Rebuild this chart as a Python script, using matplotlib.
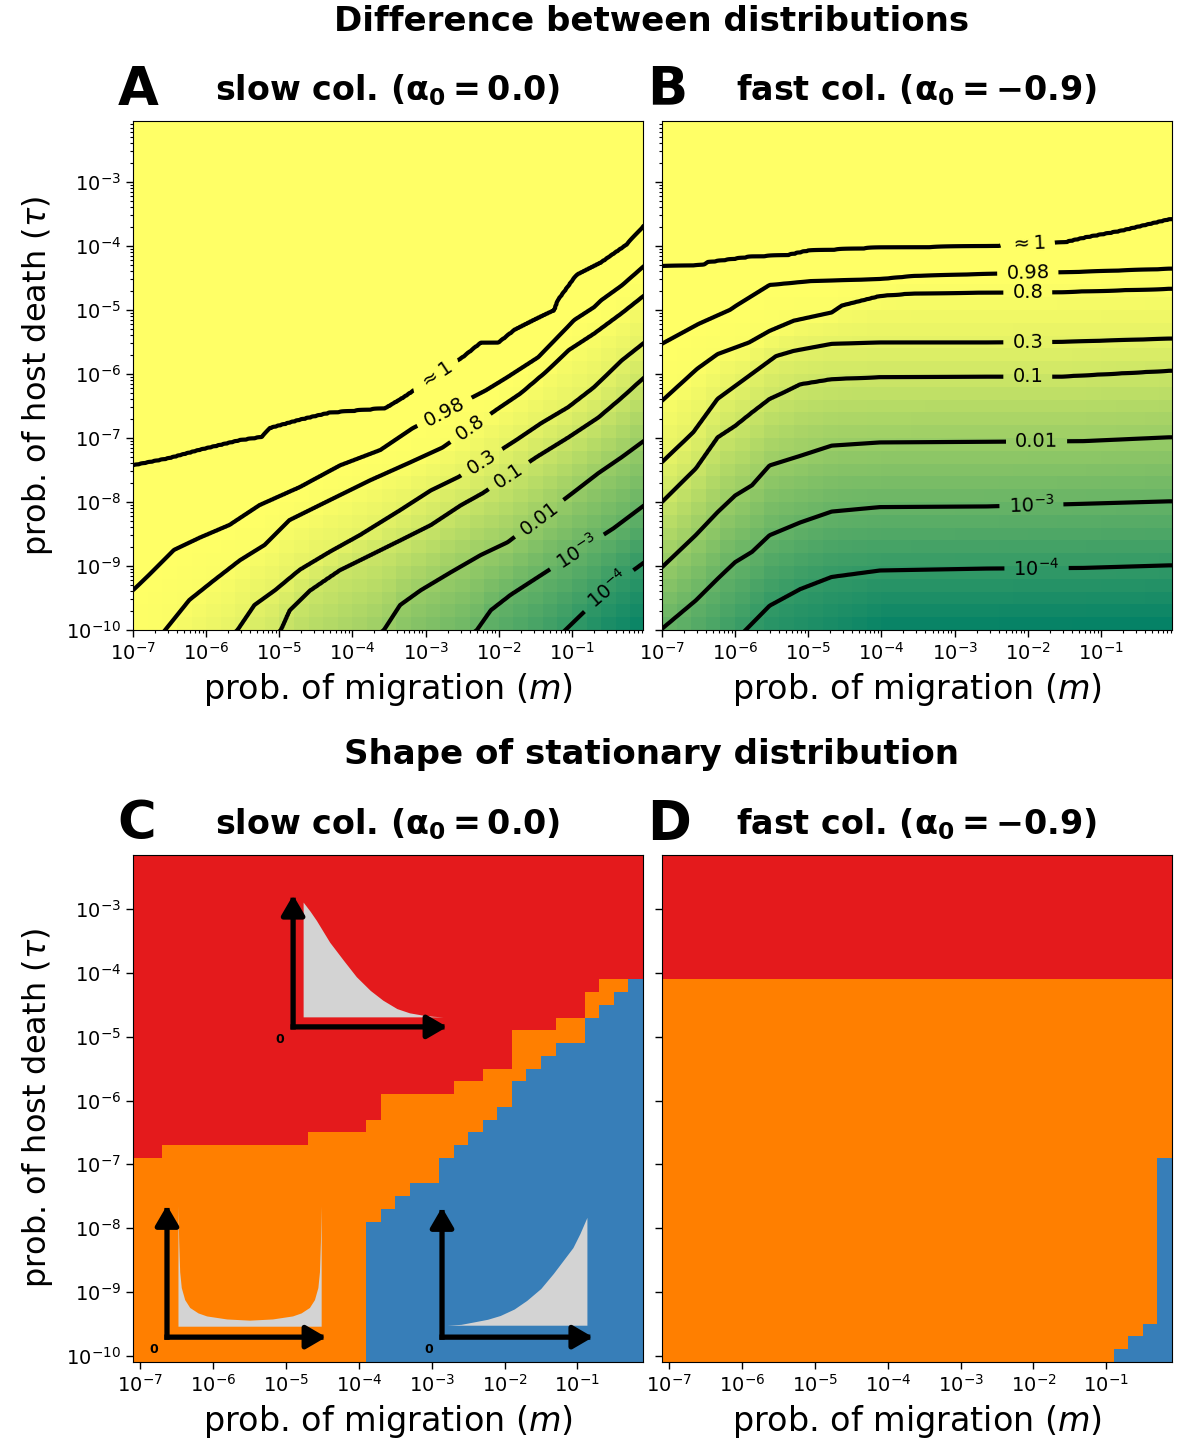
import numpy as np
import matplotlib
matplotlib.use("Agg")
import matplotlib.pyplot as plt
from matplotlib.colors import LogNorm, ListedColormap
from matplotlib.patches import FancyArrowPatch
from matplotlib.ticker import FixedLocator, NullLocator, NullFormatter

# ---- values ----------------------------------------------------------------
# difference levels (hidden floor 1e-5, drawn 1e-4 ... ~1, ceiling 1)
LEVEL_VALUES = [1e-5, 1e-4, 1e-3, 1e-2, 0.1, 0.3, 0.8, 0.98, 0.999, 1.0]
LEVEL_LABELS = {1: r"$10^{-4}$", 2: r"$10^{-3}$", 3: "0.01", 4: "0.1",
                5: "0.3", 6: "0.8", 7: "0.98", 8: r"$\approx 1$"}

# contour lines, (log10 m, log10 tau) pairs -- panel A (slow col.)
A_FLOOR = [(-7.0, -17.0), (-1.0, -11.0), (0.1, -10.0)]
A_1E4 = [(-7.0, -15.5), (-2.0, -11.0), (-1.09, -10.0), (-0.91, -9.80), (-0.5, -9.35), (-0.01, -8.94)]
A_1E3 = [(-7.0, -14.0), (-2.30, -10.0), (-2.11, -9.69), (-1.84, -9.45), (-1.38, -9.11),
         (-0.43, -8.41), (-0.01, -8.05)]
A_001 = [(-7.0, -13.0), (-3.57, -10.0), (-3.35, -9.61), (-3.07, -9.38), (-2.66, -9.10),
         (-2.25, -8.83), (-1.88, -8.63), (-0.98, -7.85), (-0.64, -7.55), (-0.32, -7.30), (-0.01, -7.04)]
A_01 = [(-7.0, -12.0), (-4.98, -10.0), (-4.86, -9.69), (-4.58, -9.38), (-4.17, -9.06), (-3.76, -8.83),
        (-3.35, -8.60), (-2.93, -8.36), (-2.52, -8.05), (-2.22, -7.86), (-1.49, -7.30), (-1.05, -6.99),
        (-0.64, -6.68), (-0.32, -6.37), (-0.01, -6.05)]
A_03 = [(-7.0, -11.5), (-5.57, -10.0), (-5.34, -9.61), (-5.06, -9.38), (-4.72, -9.06), (-4.31, -8.78),
        (-3.90, -8.52), (-3.35, -8.13), (-2.93, -7.82), (-2.55, -7.61), (-1.77, -7.04), (-1.42, -6.77),
        (-1.05, -6.52), (-0.70, -6.21), (-0.32, -5.79), (-0.01, -5.51)]
A_08 = [(-7.0, -10.6), (-6.56, -10.0), (-6.23, -9.53), (-5.89, -9.22), (-5.54, -8.91), (-5.20, -8.67),
        (-4.86, -8.28), (-4.31, -7.97), (-3.76, -7.66), (-3.21, -7.38), (-2.77, -7.15), (-2.01, -6.54),
        (-1.70, -6.30), (-1.33, -5.94), (-1.05, -5.63), (-0.70, -5.37), (-0.32, -5.05), (-0.01, -4.77)]
A_098 = [(-7.0, -9.38), (-6.78, -9.14), (-6.44, -8.75), (-6.09, -8.56), (-5.68, -8.36), (-5.27, -8.05),
         (-4.72, -7.77), (-4.17, -7.43), (-3.62, -7.19), (-3.18, -6.85), (-2.18, -6.26), (-1.88, -6.05),
         (-1.46, -5.74), (-1.24, -5.48), (-0.97, -5.16), (-0.70, -4.96), (-0.60, -4.85), (-0.32, -4.62),
         (-0.01, -4.31)]
A_APPROX1 = [(-7.0, -7.43), (-6.51, -7.32), (-6.09, -7.19), (-5.54, -7.04), (-5.24, -6.99), (-5.13, -6.85),
             (-4.72, -6.72), (-4.31, -6.61), (-3.55, -6.54), (-3.30, -6.37), (-2.49, -5.74), (-2.25, -5.52),
             (-2.01, -5.52), (-1.79, -5.32), (-1.52, -5.16), (-1.24, -5.01), (-1.19, -4.85), (-0.94, -4.46),
             (-0.60, -4.26), (-0.26, -3.99), (-0.01, -3.68)]

# panel B (fast col.)
B_FLOOR = [(-7.0, -12.3), (-4.0, -10.1), (0.1, -10.0)]
B_1E4 = [(-7.0, -11.3), (-5.84, -9.98), (-5.53, -9.62), (-5.11, -9.36), (-4.68, -9.17), (-4.02, -9.07),
         (-2.56, -9.04), (-1.24, -9.03), (-0.07, -8.99)]
B_1E3 = [(-7.0, -9.98), (-6.54, -9.54), (-6.24, -9.20), (-6.00, -8.94), (-5.77, -8.78), (-5.53, -8.52),
         (-5.11, -8.32), (-4.68, -8.15), (-4.02, -8.08), (-2.56, -8.07), (-1.29, -8.03), (-0.07, -7.99)]
B_001 = [(-7.0, -9.02), (-6.54, -8.52), (-6.24, -8.16), (-6.00, -7.90), (-5.77, -7.74), (-5.53, -7.43),
         (-5.11, -7.28), (-4.68, -7.12), (-4.02, -7.07), (-2.56, -7.06), (-1.24, -7.05), (-0.07, -6.99)]
B_01 = [(-7.0, -8.00), (-6.54, -7.48), (-6.24, -6.99), (-6.00, -6.81), (-5.77, -6.60), (-5.53, -6.39),
        (-5.34, -6.29), (-5.11, -6.16), (-4.68, -6.08), (-4.02, -6.05), (-2.56, -6.04), (-1.53, -6.04),
        (-0.07, -5.95)]
B_03 = [(-7.0, -7.38), (-6.57, -6.91), (-6.24, -6.39), (-5.81, -6.03), (-5.44, -5.72), (-5.20, -5.64),
        (-4.68, -5.53), (-4.02, -5.51), (-2.56, -5.51), (-1.53, -5.50), (-0.07, -5.45)]
B_08 = [(-7.0, -6.42), (-6.52, -5.92), (-6.24, -5.69), (-5.81, -5.51), (-5.53, -5.33), (-5.20, -5.17),
        (-4.68, -5.04), (-4.54, -4.93), (-4.02, -4.78), (-3.55, -4.74), (-2.56, -4.73), (-1.53, -4.72),
        (-0.07, -4.67)]
B_098 = [(-7.0, -5.53), (-6.50, -5.22), (-6.07, -5.00), (-5.98, -4.93), (-5.53, -4.61), (-4.97, -4.55),
         (-4.02, -4.52), (-3.55, -4.47), (-2.61, -4.44), (-1.39, -4.41), (-0.07, -4.36)]
B_APPROX1 = [(-7.0, -4.32), (-6.43, -4.30), (-6.38, -4.26), (-5.77, -4.17), (-5.29, -4.15), (-5.01, -4.08),
             (-4.02, -4.03), (-2.56, -4.01), (-1.50, -3.95), (-1.20, -3.87), (-0.73, -3.77), (-0.07, -3.59)]

# where the contour labels sit (log10 m, log10 tau), by level index
A_LABEL_AT = {8: (-2.84, -6.05), 7: (-2.76, -6.55), 6: (-2.45, -6.75), 5: (-2.25, -7.35),
              4: (-1.88, -7.55), 3: (-1.46, -8.24), 2: (-1.01, -8.64), 1: (-0.50, -9.38)}
B_LABEL_AT = {8: (-2.0, -3.98), 7: (-2.0, -4.42), 6: (-2.0, -4.73), 5: (-2.0, -5.51),
              4: (-2.0, -6.04), 3: (-1.88, -7.06), 2: (-1.95, -8.06), 1: (-1.88, -9.04)}

# shape of stationary distribution, one value per m column (log10 m = -7.0 ... -0.2)
M_COLUMNS = [-7.0, -6.8, -6.6, -6.4, -6.2, -6.0, -5.8, -5.6, -5.4, -5.2, -5.0, -4.8, -4.6, -4.4, -4.2,
             -4.0, -3.8, -3.6, -3.4, -3.2, -3.0, -2.8, -2.6, -2.4, -2.2, -2.0, -1.8, -1.6, -1.4, -1.2,
             -1.0, -0.8, -0.6, -0.4, -0.2]
nan = np.nan
# lowest log10 tau that is still "decreasing" (red)
C_RED_FROM = [-6.8, -6.8, -6.6, -6.6, -6.6, -6.6, -6.6, -6.6, -6.6, -6.6, -6.6, -6.6, -6.4, -6.4, -6.4,
              -6.4, -6.2, -5.8, -5.8, -5.8, -5.8, -5.8, -5.6, -5.6, -5.4, -5.4, -4.8, -4.8, -4.8, -4.6,
              -4.6, -4.2, -4.0, -4.0, -4.0]
# highest log10 tau that is still "increasing" (blue)
C_BLUE_TO = [nan, nan, nan, nan, nan, nan, nan, nan, nan, nan, nan, nan, nan, nan, nan,
             nan, -8.0, -7.8, -7.6, -7.4, -7.4, -7.0, -6.8, -6.6, -6.4, -6.2, -5.8, -5.6, -5.4, -5.2,
             -5.2, -4.8, -4.6, -4.4, -4.2]
D_RED_FROM = [-4.0, -4.0, -4.0, -4.0, -4.0, -4.0, -4.0, -4.0, -4.0, -4.0, -4.0, -4.0, -4.0, -4.0, -4.0,
              -4.0, -4.0, -4.0, -4.0, -4.0, -4.0, -4.0, -4.0, -4.0, -4.0, -4.0, -4.0, -4.0, -4.0, -4.0,
              -4.0, -4.0, -4.0, -4.0, -4.0]
D_BLUE_TO = [nan, nan, nan, nan, nan, nan, nan, nan, nan, nan, nan, nan, nan, nan, nan,
             nan, nan, nan, nan, nan, nan, nan, nan, nan, nan, nan, nan, nan, nan, nan,
             nan, -10.0, -9.8, -9.6, -7.0]

# sketch curves (fractions of the grey box)
DECAY_U = [0.0, 0.05, 0.095, 0.14, 0.19, 0.24, 0.29, 0.38, 0.48, 0.57, 0.67, 0.76, 0.86, 0.93, 1.0]
DECAY_V = [1.0, 0.92, 0.84, 0.75, 0.65, 0.57, 0.49, 0.35, 0.23, 0.145, 0.072, 0.035, 0.014, 0.005, 0.0]
U_SHAPE_U = [0.0, 0.005, 0.012, 0.023, 0.047, 0.082, 0.14, 0.2, 0.34, 0.5, 0.66, 0.8, 0.86,
             0.918, 0.953, 0.977, 0.988, 0.995, 1.0]
U_SHAPE_V = [1.0, 0.7, 0.45, 0.32, 0.22, 0.155, 0.11, 0.085, 0.06, 0.05, 0.06, 0.085, 0.11,
             0.155, 0.22, 0.32, 0.45, 0.7, 1.0]
RISE_U = [0.0, 0.1, 0.19, 0.29, 0.38, 0.48, 0.57, 0.67, 0.76, 0.83, 0.9, 0.95, 1.0]
RISE_V = [0.0, 0.008, 0.03, 0.055, 0.09, 0.15, 0.23, 0.34, 0.48, 0.6, 0.72, 0.85, 1.0]

M_TICKS = [1e-7, 1e-6, 1e-5, 1e-4, 1e-3, 1e-2, 1e-1]
TAU_TICKS = [1e-10, 1e-9, 1e-8, 1e-7, 1e-6, 1e-5, 1e-4, 1e-3]

RED, ORANGE, BLUE, GREY = "#e41a1c", "#ff7f00", "#377eb8", "#d3d3d3"


def level_index(curves, lm, lt):
    """Level index (0..n) at every (lt, lm) from the level lines."""
    heights = [np.interp(lm, [p[0] for p in c], [p[1] for p in c]) for c in curves]
    heights.append(np.zeros_like(lm))  # ceiling: value 1
    heights = np.array(heights)
    idx = np.arange(len(heights), dtype=float)
    out = np.empty((len(lt), len(lm)))
    for j in range(len(lm)):
        col = np.maximum.accumulate(heights[:, j] + idx * 1e-6)
        out[:, j] = np.interp(lt, col, idx)
    return out


def style_axes(ax, minor=True):
    ax.set_xscale("log")
    ax.set_yscale("log")
    for axis, ticks in ((ax.xaxis, M_TICKS), (ax.yaxis, TAU_TICKS)):
        axis.set_major_locator(FixedLocator(ticks))
        if minor:
            sub = [t * k for t in ticks for k in range(2, 10)]
            axis.set_minor_locator(FixedLocator(sub))
        else:
            axis.set_minor_locator(NullLocator())
        axis.set_minor_formatter(NullFormatter())
    ax.tick_params(which="major", labelsize=14, length=5, width=1)
    ax.tick_params(which="minor", length=2.5, width=0.8)


def draw_difference(ax, curves, label_at):
    lm_f = np.linspace(-7.05, 0.05, 400)
    lt_f = np.linspace(-10.05, -1.95, 400)
    field = level_index(curves, lm_f, lt_f)

    lm_e = np.linspace(-7.0, 0.0, 36)
    lt_e = np.linspace(-10.0, -2.0, 41)
    lm_c = 0.5 * (lm_e[1:] + lm_e[:-1])
    lt_c = 0.5 * (lt_e[1:] + lt_e[:-1])
    coarse = level_index(curves, lm_c, lt_c)
    vals = 10 ** np.interp(coarse, np.arange(len(LEVEL_VALUES)), np.log10(LEVEL_VALUES))
    ax.pcolormesh(10 ** lm_e, 10 ** lt_e, vals, cmap="summer", norm=LogNorm(1e-5, 1),
                  shading="flat", edgecolors="none", antialiased=False)

    style_axes(ax)
    ax.set_xlim(1e-7, 10 ** -0.03)
    ax.set_ylim(1e-10, 10 ** -2.05)
    # one contour set per level, so each label lands on its own line
    for lev, (x, y) in label_at.items():
        cs = ax.contour(10 ** lm_f, 10 ** lt_f, field, levels=[lev],
                        colors="k", linewidths=3)
        ax.clabel(cs, manual=[(10 ** x, 10 ** y)], fmt=LEVEL_LABELS,
                  fontsize=14, inline=True, inline_spacing=9)


def draw_shape(ax, red_from, blue_to):
    lm_e = np.linspace(-7.1, -0.1, 36)
    lt_e = np.linspace(-10.1, -2.1, 41)
    lt_c = 0.5 * (lt_e[1:] + lt_e[:-1])
    t = lt_c[:, None]
    code = np.ones((len(lt_c), len(M_COLUMNS)), dtype=int)
    code[t >= np.array(red_from)[None, :] - 1e-6] = 2
    code[t <= np.array(blue_to)[None, :] + 1e-6] = 0
    ax.pcolormesh(10 ** lm_e, 10 ** lt_e, code, cmap=ListedColormap([BLUE, ORANGE, RED]),
                  vmin=-0.5, vmax=2.5, shading="flat", edgecolors="none", antialiased=False)
    style_axes(ax, minor=False)
    ax.set_xlim(10 ** -7.1, 10 ** -0.1)
    ax.set_ylim(10 ** -10.1, 10 ** -2.15)


def sketch(ax, bounds, box, u, v):
    ins = ax.inset_axes(bounds)
    ins.set_xlim(0, 1)
    ins.set_ylim(0, 1)
    ins.axis("off")
    x0, x1, y0, y1 = box
    xs = x0 + np.array(u) * (x1 - x0)
    ys = y0 + np.array(v) * (y1 - y0)
    ins.fill_between(xs, y0, ys, color=GREY, lw=0)
    for tip in [(0, 1), (1, 0)]:
        arrow = FancyArrowPatch((0, 0), tip, arrowstyle="-|>,head_length=0.6,head_width=0.35",
                                mutation_scale=20, color="k", lw=3.8, shrinkA=0, shrinkB=0,
                                capstyle="projecting", clip_on=False)
        ins.add_patch(arrow)
    ins.text(-0.085, -0.095, "0", fontsize=9, fontweight="bold", ha="center", va="center")


fig = plt.figure(figsize=(11.81, 14.46), dpi=100)
W = 0.4318
axA = fig.add_axes([0.1126, 0.5643, W, 0.3520])
axB = fig.add_axes([0.5605, 0.5643, W, 0.3520])
axC = fig.add_axes([0.1126, 0.0581, W, 0.3506])
axD = fig.add_axes([0.5605, 0.0581, W, 0.3506])

draw_difference(axA, [A_FLOOR, A_1E4, A_1E3, A_001, A_01, A_03, A_08, A_098, A_APPROX1], A_LABEL_AT)
draw_difference(axB, [B_FLOOR, B_1E4, B_1E3, B_001, B_01, B_03, B_08, B_098, B_APPROX1], B_LABEL_AT)
draw_shape(axC, C_RED_FROM, C_BLUE_TO)
draw_shape(axD, D_RED_FROM, D_BLUE_TO)

sketch(axC, [0.314, 0.661, 0.302, 0.260], (0.065, 0.974, 0.076, 0.947), DECAY_U, DECAY_V)
sketch(axC, [0.0667, 0.049, 0.312, 0.260], (0.069, 0.969, 0.083, 1.0), U_SHAPE_U, U_SHAPE_V)
sketch(axC, [0.606, 0.049, 0.296, 0.256], (0.033, 0.96, 0.092, 0.923), RISE_U, RISE_V)

titles = {axA: ("A", r"slow col. ($\mathbf{\alpha_0 = 0.0}$)"),
          axB: ("B", r"fast col. ($\mathbf{\alpha_0 = -0.9}$)"),
          axC: ("C", r"slow col. ($\mathbf{\alpha_0 = 0.0}$)"),
          axD: ("D", r"fast col. ($\mathbf{\alpha_0 = -0.9}$)")}
for ax, (letter, title) in titles.items():
    ax.set_title(title, fontsize=24, fontweight="bold", pad=15)
    ax.text(-0.03, 1.032, letter, transform=ax.transAxes, fontsize=38,
            fontweight="bold", ha="left", va="baseline")
    ax.set_xlabel(r"prob. of migration ($m$)", fontsize=24, labelpad=5)

for ax in (axA, axC):
    ax.set_ylabel(r"prob. of host death ($\tau$)", fontsize=23, labelpad=8)
for ax in (axB, axD):
    ax.tick_params(labelleft=False)

fig.text(0.5513, 0.9848, "Difference between distributions", ha="center", va="center",
         fontsize=24.5, fontweight="bold")
fig.text(0.5513, 0.4779, "Shape of stationary distribution", ha="center", va="center",
         fontsize=24.5, fontweight="bold")

fig.savefig("out.png", dpi=100)
